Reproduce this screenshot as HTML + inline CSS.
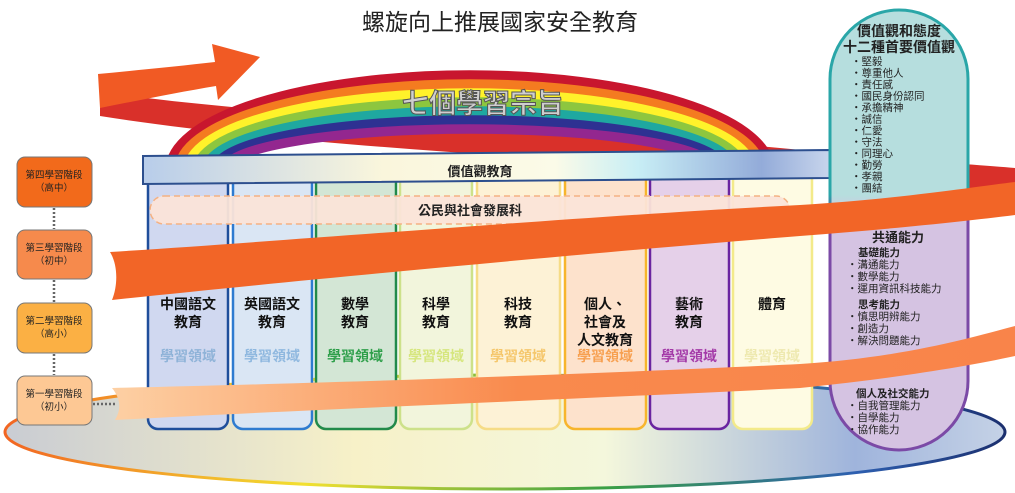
<!DOCTYPE html>
<html><head><meta charset="utf-8"><style>
html,body{margin:0;padding:0;background:#fff;width:1015px;height:493px;overflow:hidden}
text{font-family:"Liberation Sans","Noto Sans CJK TC",sans-serif}
</style></head><body>
<svg width="1015" height="493" viewBox="0 0 1015 493" xmlns="http://www.w3.org/2000/svg">
<defs>
<linearGradient id="base" x1="0" x2="1" y1="0" y2="0">
<stop offset="0" stop-color="#c9ccd3"/><stop offset="0.35" stop-color="#f7f1c8"/><stop offset="0.6" stop-color="#f4f7dc"/><stop offset="0.85" stop-color="#9fb4dc"/><stop offset="1" stop-color="#c5d2e6"/></linearGradient>
<linearGradient id="baseS" x1="0" x2="1" y1="0" y2="0">
<stop offset="0" stop-color="#f26522"/><stop offset="0.3" stop-color="#f2e030"/><stop offset="0.6" stop-color="#3aa045"/><stop offset="0.85" stop-color="#2e5fb0"/><stop offset="1" stop-color="#1b2f6e"/></linearGradient>
<linearGradient id="hdr" x1="0" x2="1" y1="0" y2="0">
<stop offset="0" stop-color="#b8cdea"/><stop offset="0.35" stop-color="#faf6dc"/><stop offset="0.6" stop-color="#fbfbe8"/><stop offset="0.72" stop-color="#c8eef5"/><stop offset="0.9" stop-color="#93abd9"/><stop offset="1" stop-color="#c8d5ec"/></linearGradient>
<linearGradient id="ob2" x1="0" x2="1" y1="0" y2="0">
<stop offset="0" stop-color="#fdd0a4"/><stop offset="0.45" stop-color="#f98a4d"/><stop offset="1" stop-color="#f9844a"/></linearGradient>
<linearGradient id="pill" x1="0" x2="0" y1="0" y2="1">
<stop offset="0" stop-color="#b6dede"/><stop offset="0.42" stop-color="#b6dede"/><stop offset="0.47" stop-color="#d5c3e2"/><stop offset="1" stop-color="#d5c3e2"/></linearGradient>
<linearGradient id="pillS" x1="0" x2="0" y1="0" y2="1">
<stop offset="0" stop-color="#2aa6a8"/><stop offset="0.42" stop-color="#2aa6a8"/><stop offset="0.47" stop-color="#7b4aa6"/><stop offset="1" stop-color="#7b4aa6"/></linearGradient>
<clipPath id="top"><rect x="0" y="0" width="1015" height="170"/></clipPath>
</defs>

<ellipse cx="505" cy="432" rx="500" ry="57" fill="url(#base)" stroke="url(#baseS)" stroke-width="3"/>

<path d="M100,92 C300,120 600,130 800,150 C900,160 980,165 1015,168 L1015,200 C960,192 880,182 800,176 C600,160 300,148 100,116 Z" fill="#d9302a"/>

<g clip-path="url(#top)" fill="none" stroke-width="9.5">
<ellipse cx="470" cy="170" rx="300" ry="95" stroke="#c8162e"/>
<ellipse cx="470" cy="170" rx="291" ry="86" stroke="#f47b20"/>
<ellipse cx="470" cy="170" rx="282" ry="77" stroke="#fff22a"/>
<ellipse cx="470" cy="170" rx="273" ry="68" stroke="#8dc63f"/>
<ellipse cx="470" cy="170" rx="264" ry="59" stroke="#1fa8a0"/>
<ellipse cx="470" cy="170" rx="255" ry="50" stroke="#2e3192"/>
<ellipse cx="470" cy="170" rx="246" ry="41" stroke="#93278f"/>
</g>
<text x="483" y="113" font-size="27" text-anchor="middle" fill="#cfcfcf" stroke="#555" stroke-width="1" font-weight="bold">七個學習宗旨</text>

<path d="M98,74 C140,70 180,66 215,62 L212,44 L260,57 L218,100 L216,86 C180,92 140,100 100,108 Z" fill="#f15a24"/>

<text x="500" y="30" font-size="23" text-anchor="middle" fill="#222">螺旋向上推展國家安全教育</text>

<g stroke-width="2.5">
<rect x="148" y="165" width="80" height="264" rx="10" fill="#d0d8f0" stroke="#1f4e9b"/>
<rect x="233" y="165" width="79" height="264" rx="10" fill="#dae6f4" stroke="#2e7bd0"/>
<rect x="316" y="165" width="80" height="264" rx="10" fill="#d3e6d5" stroke="#228a4a"/>
<rect x="400" y="165" width="72" height="264" rx="10" fill="#f2f5dc" stroke="#cde18a"/>
<rect x="477" y="165" width="83" height="264" rx="10" fill="#fdf2d6" stroke="#f6dc86"/>
<rect x="565" y="165" width="81" height="264" rx="10" fill="#fde2cc" stroke="#f7b52c"/>
<rect x="650" y="165" width="79" height="264" rx="10" fill="#e5d0e9" stroke="#6a24a0"/>
<rect x="733" y="165" width="79" height="264" rx="10" fill="#fefbe3" stroke="#f3ea8a"/>
</g>
<g font-size="14" font-weight="bold" text-anchor="middle" fill="#111">
<text x="188" y="309">中國語文</text><text x="188" y="327">教育</text>
<text x="272" y="309">英國語文</text><text x="272" y="327">教育</text>
<text x="355" y="309">數學</text><text x="355" y="327">教育</text>
<text x="436" y="309">科學</text><text x="436" y="327">教育</text>
<text x="518" y="309">科技</text><text x="518" y="327">教育</text>
<text x="605" y="309">個人、</text><text x="605" y="327">社會及</text><text x="605" y="345">人文教育</text>
<text x="689" y="309">藝術</text><text x="689" y="327">教育</text>
<text x="772" y="309">體育</text>
</g>
<g font-size="14" font-weight="bold" text-anchor="middle">
<text x="188" y="361" fill="#8fb3d8">學習領域</text>
<text x="272" y="361" fill="#8fb8df">學習領域</text>
<text x="355" y="361" fill="#2e9f4a">學習領域</text>
<text x="436" y="361" fill="#d6e67e">學習領域</text>
<text x="518" y="361" fill="#f5c76c">學習領域</text>
<text x="605" y="361" fill="#f7a050">學習領域</text>
<text x="689" y="361" fill="#a43aa8">學習領域</text>
<text x="772" y="361" fill="#eee9b0">學習領域</text>
</g>

<path d="M143,156 L830,150 L830,178 L143,184 Z" fill="url(#hdr)" stroke="#2d4f8e" stroke-width="2"/>
<text x="480" y="176" font-size="13" font-weight="bold" text-anchor="middle" fill="#222">價值觀教育</text>

<rect x="150" y="196" width="640" height="28" rx="14" fill="#fbe4d8" fill-opacity="0.95" stroke="#f4b183" stroke-width="1.5" stroke-dasharray="6,4"/>
<text x="470" y="215" font-size="13" font-weight="bold" text-anchor="middle" fill="#222">公民與社會發展科</text>

<rect x="830" y="10" width="138" height="440" rx="69" fill="url(#pill)" stroke="url(#pillS)" stroke-width="3"/>
<g fill="#222" font-size="10.5">
<text x="899" y="36" font-size="14" font-weight="bold" text-anchor="middle">價值觀和態度</text>
<text x="899" y="52" font-size="14" font-weight="bold" text-anchor="middle">十二種首要價值觀</text>
<text x="851" y="65">・堅毅</text>
<text x="851" y="76.5">・尊重他人</text>
<text x="851" y="88">・責任感</text>
<text x="851" y="99.5">・國民身份認同</text>
<text x="851" y="111">・承擔精神</text>
<text x="851" y="122.5">・誠信</text>
<text x="851" y="134">・仁愛</text>
<text x="851" y="145.5">・守法</text>
<text x="851" y="157">・同理心</text>
<text x="851" y="168.5">・勤勞</text>
<text x="851" y="180">・孝親</text>
<text x="851" y="191.5">・團結</text>
<text x="898" y="242" font-size="13" font-weight="bold" text-anchor="middle">共通能力</text>
<text x="858" y="256" font-weight="bold">基礎能力</text>
<text x="847" y="268">・溝通能力</text>
<text x="847" y="280">・數學能力</text>
<text x="847" y="292">・運用資訊科技能力</text>
<text x="858" y="308" font-weight="bold">思考能力</text>
<text x="847" y="320">・慎思明辨能力</text>
<text x="847" y="332">・創造力</text>
<text x="847" y="344">・解決問題能力</text>
<text x="856" y="397" font-weight="bold">個人及社交能力</text>
<text x="847" y="409">・自我管理能力</text>
<text x="847" y="421">・自學能力</text>
<text x="847" y="433">・協作能力</text>
</g>

<path d="M110,252 C300,240 600,215 800,205 C900,199 980,186 1015,182 L1015,215 C960,222 880,230 800,236 C600,252 300,280 112,300 C118,285 118,265 110,252 Z" fill="#f26527"/>
<path d="M112,388 C300,384 600,374 800,364 C900,358 970,338 1015,326 L1015,356 C960,368 880,380 800,388 C600,398 300,410 115,420 C122,408 120,398 112,388 Z" fill="url(#ob2)"/>

<g stroke="#777" stroke-width="1">
<rect x="17" y="157" width="75" height="50" rx="8" fill="#f26a1b"/>
<rect x="17" y="230" width="75" height="49" rx="8" fill="#f68a4c"/>
<rect x="17" y="303" width="75" height="50" rx="8" fill="#fbb044"/>
<rect x="17" y="376" width="75" height="49" rx="8" fill="#fdc894"/>
</g>
<g stroke="#666" stroke-width="2.5" stroke-dasharray="2,2">
<line x1="54" y1="208" x2="54" y2="229"/>
<line x1="54" y1="280" x2="54" y2="302"/>
<line x1="54" y1="354" x2="54" y2="375"/>
<line x1="93" y1="404" x2="115" y2="404"/>
</g>
<g font-size="9.5" text-anchor="middle" fill="#222">
<text x="54" y="178">第四學習階段</text><text x="54" y="191">（高中）</text>
<text x="54" y="251">第三學習階段</text><text x="54" y="264">（初中）</text>
<text x="54" y="324">第二學習階段</text><text x="54" y="337">（高小）</text>
<text x="54" y="397">第一學習階段</text><text x="54" y="410">（初小）</text>
</g>
</svg>
</body></html>
